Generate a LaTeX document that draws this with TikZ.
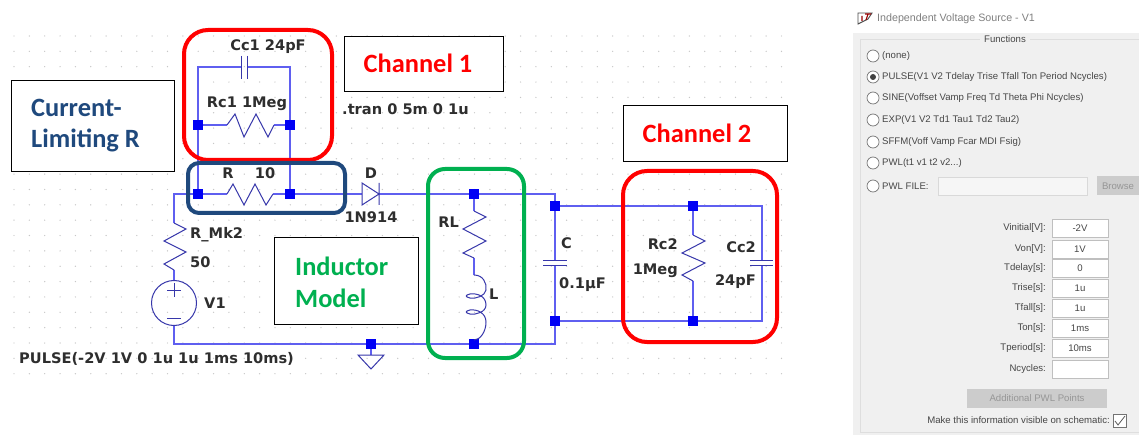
\documentclass[tikz,border=0pt]{standalone}
\usetikzlibrary{backgrounds}
\usepackage{fontspec}
\setmainfont{Liberation Sans}
\newfontfamily\calfam{Carlito}
\newfontfamily\spice{DejaVu Sans}
\newcommand{\pwltxt}{PWL(t1 v1 t2 v2...)}
\definecolor{wirec}{RGB}{95,95,240}
\definecolor{symc}{RGB}{55,55,170}
\definecolor{jun}{RGB}{0,0,245}
\definecolor{navy}{RGB}{31,73,125}
\definecolor{grn}{RGB}{0,176,80}
\definecolor{panel}{RGB}{240,240,240}
\definecolor{gline}{RGB}{222,222,222}
\definecolor{paneltxt}{RGB}{70,70,70}
\definecolor{dis}{RGB}{150,150,150}
\definecolor{btn}{RGB}{204,204,204}
\tikzset{
  x=1pt,y=-1pt,
  wire/.style={draw=wirec,line width=1.1pt},
  sym/.style={draw=symc,line width=1pt,line join=miter},
  junc/.style={fill=jun,draw=none,minimum size=10pt,inner sep=0pt,shape=rectangle},
  lbl/.style={font=\spice\fontsize{14.6}{16}\selectfont\bfseries,text=black!82,inner sep=0pt},
  call/.style={draw=black,line width=1pt,fill=white,inner sep=0pt},
  ctext/.style={font=\calfam\fontsize{26.4}{30}\selectfont\bfseries,inner sep=0pt},
  ringred/.style={draw=red,line width=4pt,rounded corners=24pt},
  ringblue/.style={draw=navy,line width=4pt,rounded corners=11pt},
  ringgreen/.style={draw=grn,line width=4pt,rounded corners=17pt},
  ptxt/.style={font=\fontsize{9.6}{12}\selectfont,text=paneltxt,inner sep=0pt},
  radio/.style={circle,draw=black!55,fill=white,line width=.7pt,minimum size=12pt,inner sep=0pt},
  field/.style={draw=black!25,fill=white,line width=.6pt,minimum width=56pt,minimum height=18pt,inner sep=0pt,font=\fontsize{9.6}{12}\selectfont,text=paneltxt},
  gbtn/.style={fill=btn,draw=none,inner sep=0pt,font=\fontsize{9.6}{12}\selectfont,text=dis}
}
\begin{document}
\begin{tikzpicture}
\useasboundingbox (0,0) rectangle (1139,435);
% junctions
\node[junc] (j1) at (198,125) {};
\node[junc] (j2) at (290,125) {};
\node[junc] (j3) at (198,194) {};
\node[junc] (j4) at (290,194) {};
\node[junc] (j5) at (474,194) {};
\node[junc] (j6) at (474,344) {};
\node[junc] (j7) at (371,344) {};
\node[junc] (j8) at (555,206) {};
\node[junc] (j9) at (555,321) {};
\node[junc] (j10) at (693,206) {};
\node[junc] (j11) at (693,321) {};
\coordinate (ctl) at (198,67);
\coordinate (ctr) at (290,67);
\coordinate (nl) at (174,194);
\coordinate (nr) at (555,194);
\coordinate (sl) at (174,344);
\coordinate (sr) at (555,344);
\coordinate (br) at (762,206);
\coordinate (brb) at (762,321);
\begin{scope}[on background layer]
\fill[white] (0,0) rectangle (1139,435);
% grid dots
\foreach \i in {0,...,50}{\foreach \j in {0,...,22}{
  \fill[black!22] ({14+15.35*\i},{36+15.35*\j}) circle (.7);
}}
% wires
\draw[wire] (j3.center) -- (j1.center) -- (ctl) -- (241,67);
\draw[wire] (j4.center) -- (j2.center) -- (ctr) -- (247,67);
\draw[wire] (j1.center) -- (227,125);
\draw[wire] (j2.center) -- (274,125);
\draw[wire] (174,223) -- (nl) -- (j3.center) -- (227,194);
\draw[wire] (273,194) -- (j4.center) -- (362,194);
\draw[wire] (379,194) -- (j5.center) -- (nr) -- (j8.center) -- (555,261);
\draw[wire] (555,266) -- (j9.center) -- (sr) -- (j6.center) -- (j7.center) -- (sl) -- (174,326);
\draw[wire] (j8.center) -- (j10.center) -- (br) -- (762,261);
\draw[wire] (j9.center) -- (j11.center) -- (brb) -- (762,266);
\draw[wire] (j5.center) -- (474,211);
\draw[wire] (474,258) -- (474,275);
\draw[wire] (474,340) -- (j6.center);
\draw[wire] (j10.center) -- (693,235);
\draw[wire] (693,281) -- (j11.center);
\draw[wire] (174,270) -- (174,281);
\draw[wire] (j7.center) -- (371,355);
\end{scope}
% symbols
\draw[sym] (241,56) -- (241,79) (247,56) -- (247,79);
\draw[sym] (227,125) -- (235,114) -- (244,137) -- (256,114) -- (268,137) -- (274,125);
\draw[sym] (227,194) -- (233,184) -- (244,205) -- (255,184) -- (266,205) -- (273,194);
\draw[sym] (362,183) -- (379,194) -- (362,205) -- cycle (379,183) -- (379,205);
\draw[sym] (174,223) -- (186,229) -- (164,241) -- (186,252) -- (164,264) -- (174,270);
\draw[sym] (174,303) circle (22.5);
\draw[sym,line width=.9pt] (167,290) -- (181,290) (174,283) -- (174,297) (167,318) -- (181,318);
\draw[sym] (358,355) -- (384,355) -- (371,369) -- cycle;
\draw[sym] (474,211) -- (486,217) -- (463,229) -- (486,241) -- (463,253) -- (474,258);
\draw[sym] (474,275) .. controls (483,275) and (487,283) .. (486,290) .. controls (485,296) and (476,299) .. (470,298) .. controls (465,297) and (465,295) .. (470,294) .. controls (477,293) and (486,296) .. (486,305) .. controls (486,312) and (476,315) .. (470,314) .. controls (465,313) and (465,311) .. (470,310) .. controls (477,309) and (486,313) .. (486,322) .. controls (486,332) and (480,340) .. (474,340);
\draw[sym] (543,261) -- (567,261) (543,266) -- (567,266);
\draw[sym] (693,235) -- (705,241) -- (682,253) -- (705,263) -- (682,275) -- (693,281);
\draw[sym] (750,261) -- (773,261) (750,266) -- (773,266);
% schematic labels
\node[lbl] (tCc1) at (268,47) {Cc1\ 24pF};
\node[lbl] (tRc1) at (247,104) {Rc1 1Meg};
\node[lbl] (tR) at (228,173) {R};
\node[lbl] (tRv) at (265,173) {10};
\node[lbl] (tD) at (371,173) {D};
\node[lbl] (tDv) at (371,217) {1N914};
\node[lbl,anchor=west] (tRm) at (190,235) {R\_Mk2};
\node[lbl,anchor=west] (tRmv) at (190,262) {50};
\node[lbl,anchor=west] (tV) at (204,303) {V1};
\node[lbl,anchor=west] (tP) at (19,359) {PULSE(-2V 1V 0 1u 1u 1ms 10ms)};
\node[lbl,anchor=west] (tT) at (342,109) {.tran 0 5m 0 1u};
\node[lbl,anchor=east] (tRL) at (459,222) {RL};
\node[lbl,anchor=west] (tL) at (489,294) {L};
\node[lbl,anchor=west] (tC) at (561,243) {C};
\node[lbl,anchor=west] (tCv) at (559,285) {0.1µF};
\node[lbl,anchor=east] (tR2) at (678,244) {Rc2};
\node[lbl,anchor=east] (tR2v) at (678,271) {1Meg};
\node[lbl,anchor=east] (tC2) at (756,247) {Cc2};
\node[lbl,anchor=east] (tC2v) at (756,282) {24pF};
% callout boxes
\draw[call] (11,81) rectangle (174,172);
\draw[call] (344,37) rectangle (503,92);
\draw[call] (623,106) rectangle (787,162);
\draw[call] (274,238) rectangle (418,324);
\node[ctext,text=navy,anchor=west] (cl1) at (31,108) {Current-};
\node[ctext,text=navy,anchor=west] (cl2) at (31,140) {Limiting R};
\node[ctext,text=red] (ch1) at (418,63) {Channel 1};
\node[ctext,text=red] (ch2) at (697,133) {Channel 2};
\node[ctext,text=grn,anchor=west] (im1) at (295,266) {Inductor};
\node[ctext,text=grn,anchor=west] (im2) at (295,298) {Model};
% rings
\draw[ringred] (184,30) rectangle (332,160);
\draw[ringblue] (188,163) rectangle (345,213);
\draw[ringgreen] (428,169) rectangle (524,358);
\draw[ringred] (623,171) rectangle (777,342);
% dialog
\fill[panel] (853,33) rectangle (1139,435);
\draw[gline,line width=.7pt] (860,39) -- (980,39) (1030,39) -- (1139,39) (860,39) -- (860,432) -- (1139,432);
\draw[black!70,line width=.9pt] (858,24) -- (858,13) -- (872,13) -- (868,19) -- cycle;
\draw[red!60!black,line width=1.1pt] (862,16) -- (862,21) (865,14) -- (871,14) (868,14) -- (866,20);
\node[ptxt,text=black!50,anchor=west,font=\fontsize{10.7}{14}\selectfont] (title) at (877,19) {Independent Voltage Source - V1};
\node[ptxt] (fn) at (1005,39) {Functions};
\foreach \nm/\yy/\tx in {a/56/(none),b/77/PULSE(V1 V2 Tdelay Trise Tfall Ton Period Ncycles),c/98/SINE(Voffset Vamp Freq Td Theta Phi Ncycles),d/120/EXP(V1 V2 Td1 Tau1 Td2 Tau2),e/142/SFFM(Voff Vamp Fcar MDI Fsig),f/163/\pwltxt,g/186/PWL FILE:}{
  \node[radio] (r\nm) at (873,\yy) {};
  \node[ptxt,anchor=west] (rt\nm) at (882,\yy) {\tx};
}
\fill[black!75] (rb.center) circle (3);
\draw[black!15,fill=panel!60!white,line width=.6pt] (938,177) rectangle (1087,195);
\node[gbtn,minimum width=42pt,minimum height=19pt] (bb) at (1118,186) {Browse};
\foreach \nm/\yy/\lb/\vl in {p/228/Vinitial[V]:/-2V,q/249/Von[V]:/1V,s/268/Tdelay[s]:/0,t/288/Trise[s]:/1u,u/308/Tfall[s]:/1u,v/328/Ton[s]:/1ms,w/348/Tperiod[s]:/10ms,x/369/Ncycles:/}{
  \node[field] (f\nm) at (1080,\yy) {\vl};
  \node[ptxt,anchor=east] (l\nm) at (1046,\yy) {\lb};
}
\node[gbtn,minimum width=140pt,minimum height=19pt] (pwl) at (1037,398.5) {Additional PWL Points};
\node[ptxt,anchor=east] (vis) at (1110,420) {Make this information visible on schematic:};
\node[draw=black!55,fill=white,line width=.7pt,minimum size=13pt,inner sep=0pt] (chk) at (1119.5,420.5) {};
\draw[black!65,line width=.8pt] (1115,421) -- (1118,425) -- (1125,416);
\end{tikzpicture}
\end{document}
